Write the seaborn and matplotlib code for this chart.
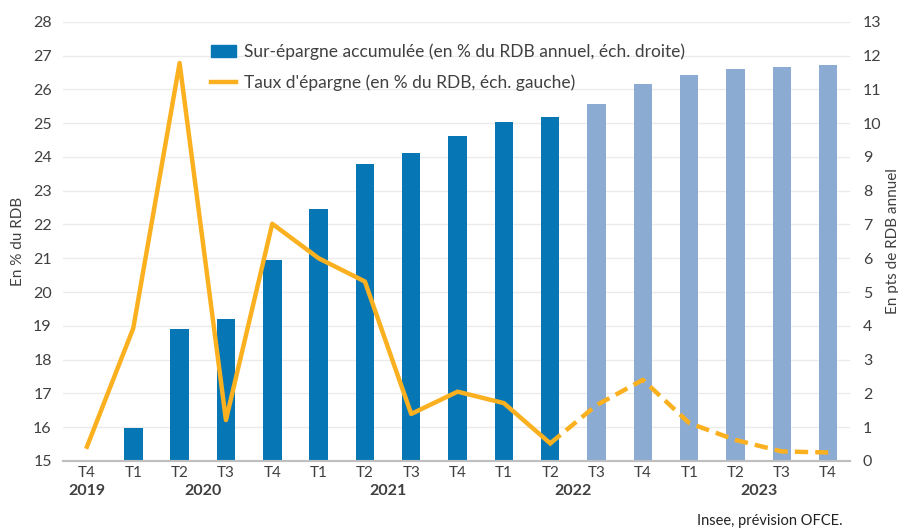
import numpy as np
import pandas as pd
import matplotlib.pyplot as plt
import seaborn as sns
from matplotlib.patches import Patch
from matplotlib.lines import Line2D
import matplotlib.transforms as mtransforms

# quarters from T4 2019 to T4 2023
quarters = ["T4", "T1", "T2", "T3", "T4", "T1", "T2", "T3", "T4",
            "T1", "T2", "T3", "T4", "T1", "T2", "T3", "T4"]
years = ["2019", "2020", "2021", "2022", "2023"]
year_pos = [0, 2.5, 6.5, 10.5, 14.5]

# sur-epargne accumulee (right axis), no bar for T4 2019
surepargne = [0.0, 0.97, 3.9, 4.2, 5.96, 7.46, 8.78, 9.12, 9.63,
              10.04, 10.18, 10.57, 11.16, 11.43, 11.6, 11.65, 11.71]
# taux d'epargne (left axis)
taux = [15.42, 18.93, 26.78, 16.21, 22.02, 21.0, 20.31, 16.39, 17.05,
        16.71, 15.52, 16.65, 17.4, 16.12, 15.62, 15.28, 15.25]
# index of last observed quarter (T2 2022), forecast afterwards
last_obs = 10

dark_blue = "#0677B4"
light_blue = "#8BABD3"
orange = "#FBB01F"
txt = "#404040"

plt.rcParams["font.family"] = ["Lato", "DejaVu Sans"]

df = pd.DataFrame({
    "pos": range(len(quarters)),
    "surepargne": surepargne,
    "taux": taux,
    "type": ["obs" if i <= last_obs else "prev" for i in range(len(quarters))],
})

fig = plt.figure(figsize=(8.98, 5.31), dpi=100)
ax = fig.add_axes([0.070, 0.132, 0.877, 0.827])
ax2 = ax.twinx()

# bars on the right axis (drawn below)
sns.barplot(data=df, x="pos", y="surepargne", hue="type",
            palette={"obs": dark_blue, "prev": light_blue},
            width=0.4, dodge=False, legend=False, ax=ax2, saturation=1)
ax2.set_ylim(0, 13)
ax2.set_yticks(range(0, 14))
ax2.grid(axis="y", color="#EBEBEB", linewidth=1)
ax2.set_axisbelow(True)
ax2.set_ylabel("En pts de RDB annuel", color=txt, fontsize=11, labelpad=3)

# line on the left axis (drawn on top)
obs = df[df["pos"] <= last_obs]
prev = df[df["pos"] >= last_obs]
sns.lineplot(data=obs, x="pos", y="taux", color=orange, linewidth=3.2, ax=ax)
sns.lineplot(data=prev, x="pos", y="taux", color=orange, linewidth=3.2,
             linestyle=(0, (3, 1.6)), ax=ax)
ax.set_zorder(ax2.get_zorder() + 1)
ax.patch.set_visible(False)
ax.set_ylim(15, 28)
ax.set_yticks(range(15, 29))
ax.set_ylabel("En % du RDB", color=txt, fontsize=11, labelpad=6)
ax.set_xlim(-0.52, 16.48)
ax2.set_xlim(-0.52, 16.48)

ax.set_xticks(range(len(quarters)))
ax.set_xticklabels(quarters)
ax.set_xlabel("")
ax2.set_xlabel("")

for a in (ax, ax2):
    for s in ["top", "left", "right"]:
        a.spines[s].set_visible(False)
    a.spines["bottom"].set_color("#BFBFBF")
    a.spines["bottom"].set_linewidth(1.5)
    a.tick_params(axis="y", length=0, labelsize=11.5, labelcolor=txt, pad=8)
    a.tick_params(axis="x", length=0, labelsize=11, labelcolor=txt, pad=4)
ax2.tick_params(axis="y", pad=9)

# year labels under the quarters
trans = mtransforms.blended_transform_factory(ax.transData, fig.transFigure)
for yr, p in zip(years, year_pos):
    ax.text(p, 1 - 491 / 531, yr, transform=trans, ha="center", va="center",
            fontsize=11.5, fontweight="bold", color=txt)

handles = [Patch(color=dark_blue),
           Line2D([0], [0], color=orange, linewidth=3.2)]
labels = ["Sur-épargne accumulée (en % du RDB annuel, éch. droite)",
          "Taux d'épargne (en % du RDB, éch. gauche)"]
ax.legend(handles, labels, loc="upper left", bbox_to_anchor=(0.218, 0.948),
          bbox_transform=fig.transFigure, frameon=False, fontsize=12.5,
          labelcolor=txt, handlelength=1.4, handletextpad=0.45,
          labelspacing=0.85)

fig.text(843 / 898, 1 - 521 / 531, "Insee, prévision OFCE.", ha="right",
         va="center", fontsize=10.5, color="#222222")

fig.savefig("out.png", dpi=100)
